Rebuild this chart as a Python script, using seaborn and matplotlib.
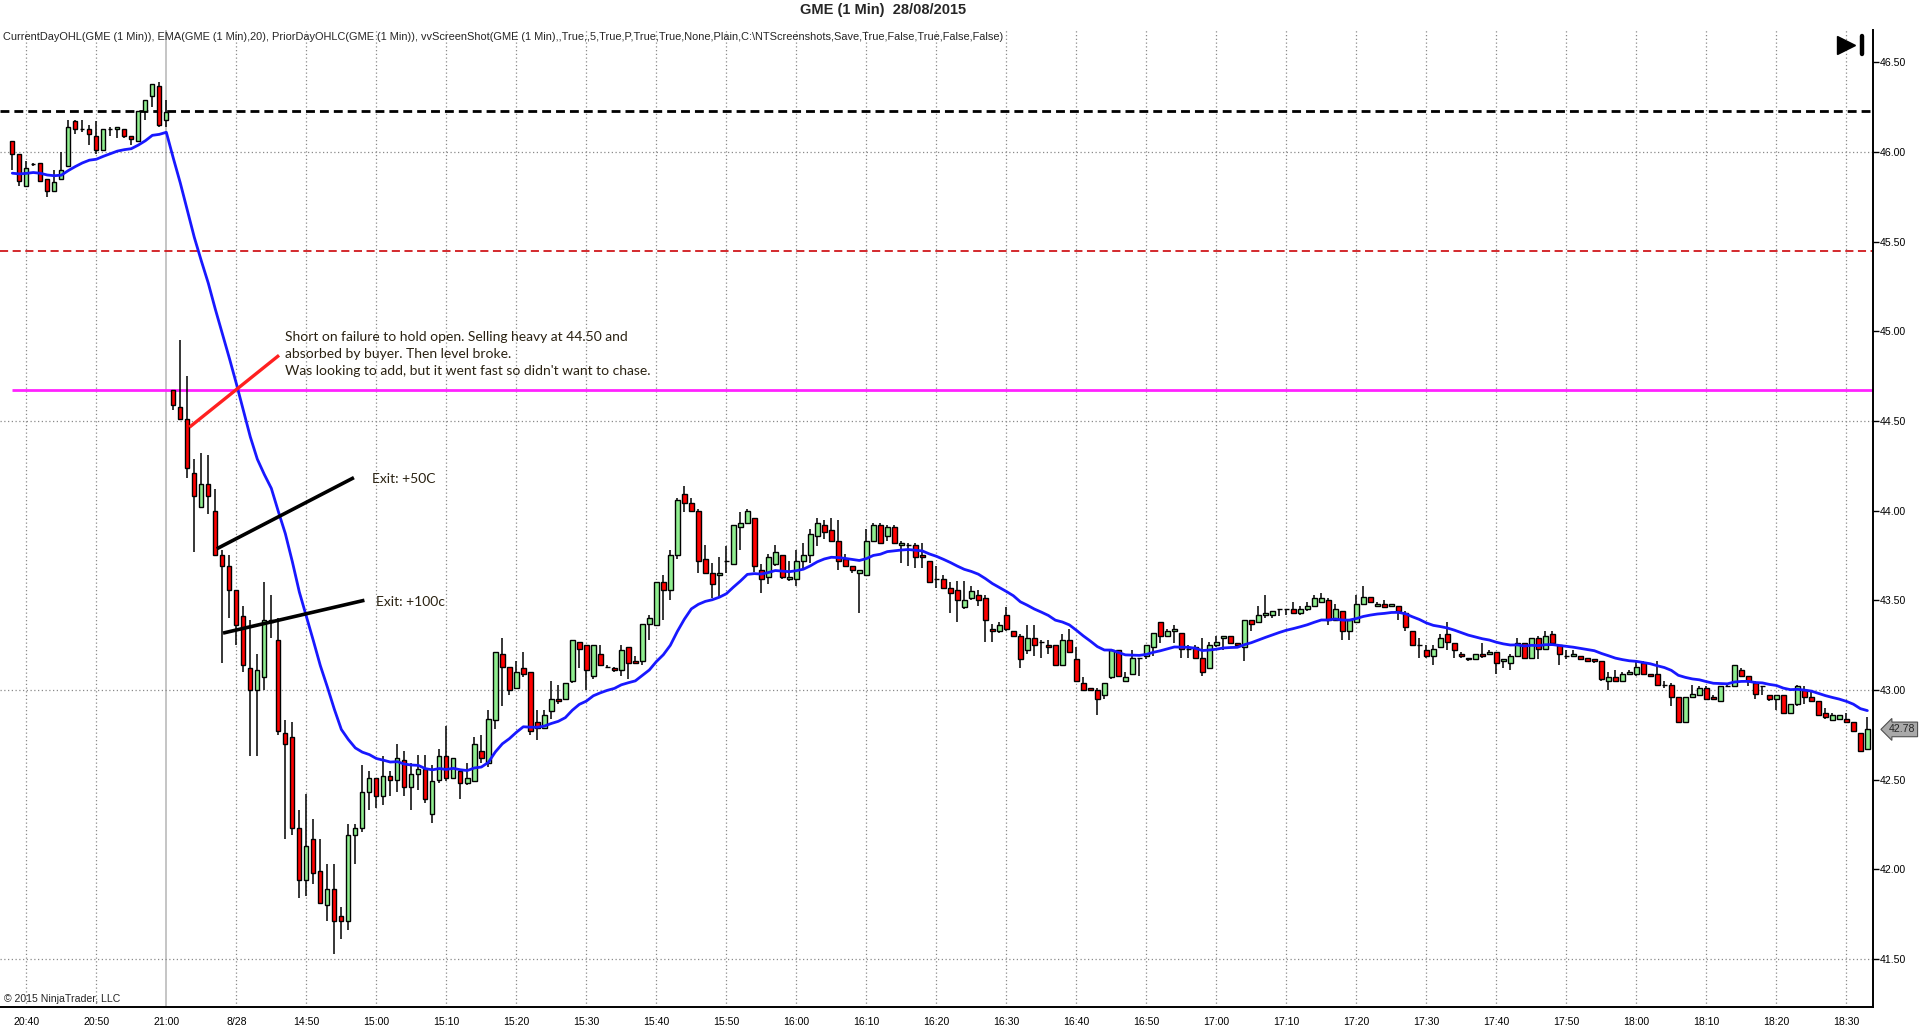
import numpy as np
import pandas as pd
import matplotlib
matplotlib.use("Agg")
import matplotlib.pyplot as plt
from matplotlib.lines import Line2D
import matplotlib.transforms as mtransforms
import seaborn as sns

# GME 1 minute bars, 20:38 (27/08) .. 21:00, then 14:31 (28/08) .. 18:33
OPEN = [46.06, 45.99, 45.81, 45.93, 45.94, 45.85, 45.78, 45.85, 45.92, 46.17,
        46.13, 46.13, 46.09, 46.01, 46.13, 46.13, 46.13, 46.09, 46.06, 46.23,
        46.31, 46.37, 46.18, 44.67, 44.58, 44.51, 44.21, 44.02, 44.15, 44.00,
        43.75, 43.69, 43.56, 43.41, 43.12, 43.00, 43.07, 43.38, 43.28, 42.76,
        42.74, 42.23, 41.94, 42.17, 41.99, 41.80, 41.89, 41.74, 41.71, 42.19,
        42.23, 42.43, 42.51, 42.41, 42.52, 42.50, 42.61, 42.46, 42.53, 42.56,
        42.31, 42.50, 42.63, 42.51, 42.55, 42.48, 42.49, 42.66, 42.59, 42.83,
        43.20, 43.13, 43.01, 43.12, 43.10, 42.82, 42.79, 42.88, 42.95, 42.95,
        43.05, 43.27, 43.25, 43.08, 43.20, 43.13, 43.12, 43.11, 43.24, 43.16,
        43.16, 43.37, 43.36, 43.60, 43.56, 43.75, 44.09, 44.04, 44.00, 43.73,
        43.65, 43.64, 43.72, 43.70, 43.91, 43.93, 43.96, 43.67, 43.63, 43.70,
        43.75, 43.62, 43.62, 43.72, 43.75, 43.86, 43.92, 43.89, 43.83, 43.73,
        43.69, 43.65, 43.64, 43.83, 43.92, 43.86, 43.91, 43.81, 43.81, 43.81,
        43.75, 43.72, 43.62, 43.62, 43.57, 43.56, 43.46, 43.51, 43.53, 43.51,
        43.34, 43.33, 43.42, 43.33, 43.30, 43.22, 43.29, 43.27, 43.25, 43.25,
        43.14, 43.28, 43.17, 43.04, 43.01, 43.00, 42.97, 43.07, 43.22, 43.05,
        43.09, 43.18, 43.19, 43.24, 43.38, 43.30, 43.33, 43.32, 43.23, 43.24,
        43.18, 43.12, 43.25, 43.29, 43.30, 43.26, 43.24, 43.39, 43.38, 43.42,
        43.42, 43.45, 43.45, 43.45, 43.43, 43.45, 43.47, 43.49, 43.50, 43.39,
        43.44, 43.33, 43.38, 43.48, 43.52, 43.47, 43.48, 43.47, 43.47, 43.43,
        43.33, 43.25, 43.22, 43.19, 43.24, 43.31, 43.26, 43.20, 43.18, 43.17,
        43.20, 43.20, 43.21, 43.16, 43.15, 43.19, 43.26, 43.18, 43.29, 43.23,
        43.31, 43.25, 43.19, 43.19, 43.19, 43.18, 43.17, 43.16, 43.05, 43.07,
        43.05, 43.09, 43.09, 43.15, 43.09, 43.09, 43.03, 43.03, 42.96, 42.82,
        42.96, 42.97, 43.01, 42.96, 42.94, 43.02, 43.02, 43.11, 43.08, 43.04,
        43.02, 42.97, 42.95, 42.97, 42.87, 42.92, 43.00, 42.96, 42.94, 42.87,
        42.83, 42.84, 42.84, 42.82, 42.76, 42.67]
HIGH = [46.06, 45.99, 45.95, 45.94, 45.94, 45.85, 45.90, 46.00, 46.18, 46.18,
        46.18, 46.15, 46.17, 46.13, 46.14, 46.14, 46.13, 46.09, 46.23, 46.29,
        46.38, 46.39, 46.29, 44.67, 44.95, 44.75, 44.29, 44.32, 44.31, 44.12,
        43.78, 43.75, 43.56, 43.47, 43.39, 43.20, 43.60, 43.53, 43.40, 42.83,
        42.82, 42.33, 42.42, 42.28, 42.17, 42.03, 42.03, 41.79, 42.25, 42.25,
        42.58, 42.55, 42.51, 42.63, 42.55, 42.70, 42.66, 42.59, 42.64, 42.64,
        42.58, 42.67, 42.80, 42.62, 42.56, 42.59, 42.74, 42.75, 42.89, 43.21,
        43.29, 43.13, 43.16, 43.21, 43.10, 42.89, 42.89, 43.05, 43.03, 43.04,
        43.28, 43.27, 43.25, 43.25, 43.25, 43.14, 43.13, 43.25, 43.24, 43.19,
        43.37, 43.42, 43.60, 43.64, 43.78, 44.07, 44.14, 44.07, 44.01, 43.81,
        43.71, 43.74, 43.80, 43.92, 43.99, 44.01, 43.96, 43.70, 43.76, 43.81,
        43.75, 43.72, 43.78, 43.82, 43.90, 43.96, 43.95, 43.96, 43.95, 43.76,
        43.69, 43.67, 43.90, 43.93, 43.93, 43.92, 43.92, 43.83, 43.82, 43.82,
        43.82, 43.72, 43.69, 43.64, 43.60, 43.61, 43.61, 43.58, 43.56, 43.53,
        43.37, 43.38, 43.46, 43.33, 43.31, 43.36, 43.36, 43.28, 43.28, 43.25,
        43.31, 43.34, 43.24, 43.07, 43.01, 43.01, 43.04, 43.22, 43.22, 43.10,
        43.22, 43.18, 43.25, 43.32, 43.38, 43.34, 43.36, 43.32, 43.25, 43.25,
        43.29, 43.27, 43.30, 43.30, 43.30, 43.26, 43.39, 43.39, 43.47, 43.53,
        43.44, 43.45, 43.45, 43.49, 43.47, 43.49, 43.53, 43.54, 43.51, 43.48,
        43.44, 43.39, 43.53, 43.58, 43.52, 43.49, 43.50, 43.48, 43.47, 43.44,
        43.33, 43.29, 43.25, 43.25, 43.31, 43.38, 43.26, 43.21, 43.18, 43.20,
        43.26, 43.22, 43.21, 43.17, 43.20, 43.29, 43.26, 43.29, 43.30, 43.33,
        43.33, 43.25, 43.22, 43.22, 43.19, 43.18, 43.17, 43.16, 43.10, 43.11,
        43.10, 43.11, 43.16, 43.16, 43.09, 43.16, 43.05, 43.04, 42.96, 42.96,
        43.03, 43.02, 43.02, 42.97, 43.02, 43.04, 43.14, 43.12, 43.08, 43.05,
        43.02, 42.97, 42.97, 42.97, 42.92, 43.03, 43.02, 42.99, 42.94, 42.90,
        42.87, 42.86, 42.87, 42.82, 42.76, 42.85]
LOW = [45.90, 45.81, 45.81, 45.92, 45.84, 45.75, 45.78, 45.85, 45.92, 46.10,
       46.11, 46.04, 45.99, 46.01, 46.09, 46.08, 46.08, 46.04, 46.06, 46.18,
       46.25, 46.14, 46.14, 44.56, 44.51, 44.18, 43.77, 44.02, 43.98, 43.75,
       43.15, 43.40, 43.25, 43.10, 42.63, 42.63, 43.00, 43.29, 42.75, 42.17,
       42.19, 41.84, 41.85, 41.92, 41.81, 41.71, 41.53, 41.61, 41.66, 42.03,
       42.21, 42.33, 42.34, 42.36, 42.41, 42.43, 42.41, 42.33, 42.44, 42.37,
       42.26, 42.48, 42.49, 42.51, 42.39, 42.47, 42.49, 42.59, 42.57, 42.78,
       42.91, 42.97, 43.01, 43.07, 42.75, 42.72, 42.79, 42.84, 42.92, 42.95,
       43.04, 43.12, 43.00, 43.06, 43.14, 43.12, 43.10, 43.08, 43.06, 43.15,
       43.14, 43.28, 43.36, 43.39, 43.50, 43.73, 43.99, 44.00, 43.65, 43.65,
       43.51, 43.51, 43.65, 43.70, 43.78, 43.93, 43.66, 43.54, 43.59, 43.69,
       43.62, 43.61, 43.58, 43.68, 43.71, 43.80, 43.84, 43.83, 43.67, 43.69,
       43.65, 43.43, 43.64, 43.83, 43.82, 43.83, 43.82, 43.71, 43.69, 43.68,
       43.68, 43.60, 43.57, 43.57, 43.43, 43.38, 43.45, 43.50, 43.47, 43.27,
       43.27, 43.32, 43.33, 43.30, 43.12, 43.20, 43.19, 43.18, 43.20, 43.14,
       43.14, 43.21, 43.05, 43.00, 43.00, 42.86, 42.95, 43.06, 43.08, 43.05,
       43.09, 43.08, 43.17, 43.19, 43.26, 43.30, 43.26, 43.18, 43.18, 43.18,
       43.08, 43.12, 43.24, 43.22, 43.26, 43.25, 43.16, 43.33, 43.38, 43.40,
       43.40, 43.41, 43.42, 43.43, 43.42, 43.44, 43.47, 43.49, 43.36, 43.39,
       43.28, 43.28, 43.38, 43.48, 43.49, 43.47, 43.46, 43.47, 43.39, 43.33,
       43.25, 43.18, 43.18, 43.14, 43.24, 43.22, 43.18, 43.18, 43.16, 43.17,
       43.18, 43.20, 43.09, 43.12, 43.11, 43.19, 43.18, 43.18, 43.17, 43.22,
       43.26, 43.14, 43.17, 43.19, 43.17, 43.16, 43.15, 43.05, 43.00, 43.05,
       43.05, 43.09, 43.08, 43.09, 43.08, 43.03, 43.01, 42.91, 42.82, 42.82,
       42.96, 42.97, 42.95, 42.95, 42.94, 43.02, 43.02, 43.07, 43.02, 42.95,
       42.97, 42.94, 42.89, 42.87, 42.87, 42.91, 42.92, 42.94, 42.86, 42.84,
       42.83, 42.83, 42.82, 42.77, 42.66, 42.67]
CLOSE = [45.99, 45.84, 45.91, 45.93, 45.84, 45.78, 45.83, 45.90, 46.14, 46.13,
         46.13, 46.10, 46.01, 46.13, 46.13, 46.14, 46.09, 46.07, 46.23, 46.29,
         46.38, 46.15, 46.22, 44.59, 44.51, 44.24, 44.08, 44.15, 44.08, 43.75,
         43.69, 43.56, 43.36, 43.14, 43.00, 43.11, 43.39, 43.39, 42.77, 42.70,
         42.23, 41.94, 42.13, 41.98, 41.81, 41.89, 41.71, 41.71, 42.19, 42.23,
         42.43, 42.51, 42.41, 42.52, 42.50, 42.62, 42.46, 42.53, 42.56, 42.39,
         42.49, 42.63, 42.51, 42.62, 42.48, 42.51, 42.70, 42.62, 42.84, 43.21,
         43.13, 43.00, 43.10, 43.09, 42.77, 42.79, 42.86, 42.95, 42.94, 43.04,
         43.28, 43.23, 43.11, 43.25, 43.14, 43.13, 43.11, 43.22, 43.15, 43.15,
         43.37, 43.40, 43.60, 43.56, 43.75, 44.06, 44.04, 44.00, 43.72, 43.65,
         43.59, 43.65, 43.72, 43.92, 43.93, 44.00, 43.69, 43.62, 43.74, 43.77,
         43.63, 43.63, 43.72, 43.75, 43.87, 43.93, 43.88, 43.83, 43.72, 43.69,
         43.67, 43.67, 43.83, 43.92, 43.82, 43.91, 43.82, 43.82, 43.81, 43.74,
         43.74, 43.60, 43.62, 43.57, 43.54, 43.50, 43.50, 43.55, 43.50, 43.39,
         43.33, 43.36, 43.34, 43.30, 43.17, 43.29, 43.25, 43.27, 43.24, 43.14,
         43.28, 43.21, 43.05, 43.00, 43.00, 42.95, 43.04, 43.22, 43.08, 43.07,
         43.18, 43.18, 43.25, 43.32, 43.30, 43.33, 43.34, 43.23, 43.23, 43.18,
         43.10, 43.25, 43.27, 43.30, 43.26, 43.25, 43.39, 43.37, 43.42, 43.43,
         43.44, 43.45, 43.45, 43.43, 43.45, 43.47, 43.51, 43.51, 43.39, 43.45,
         43.33, 43.39, 43.48, 43.52, 43.49, 43.48, 43.46, 43.48, 43.44, 43.35,
         43.25, 43.25, 43.19, 43.23, 43.29, 43.27, 43.22, 43.19, 43.17, 43.20,
         43.19, 43.21, 43.15, 43.17, 43.19, 43.26, 43.18, 43.29, 43.23, 43.30,
         43.26, 43.20, 43.19, 43.20, 43.17, 43.16, 43.16, 43.06, 43.07, 43.05,
         43.09, 43.10, 43.13, 43.09, 43.08, 43.03, 43.03, 42.96, 42.82, 42.96,
         42.98, 43.01, 42.95, 42.95, 43.02, 43.02, 43.14, 43.08, 43.05, 42.98,
         43.02, 42.95, 42.97, 42.87, 42.92, 43.02, 42.96, 42.94, 42.86, 42.85,
         42.86, 42.86, 42.82, 42.77, 42.66, 42.78]

X_TICK_BARS = list(range(2, 266, 10))
X_TICK_LABELS = ["20:40", "20:50", "21:00", "8/28", "14:50", "15:00", "15:10",
                 "15:20", "15:30", "15:40", "15:50", "16:00", "16:10", "16:20",
                 "16:30", "16:40", "16:50", "17:00", "17:10", "17:20", "17:30",
                 "17:40", "17:50", "18:00", "18:10", "18:20", "18:30"]
SESSION_BREAK_BAR = 22
Y_TICKS = [41.5, 42.0, 42.5, 43.0, 43.5, 44.0, 44.5, 45.0, 45.5, 46.0, 46.5]
Y_GRID = [41.5, 43.0, 44.5, 46.0]

EMA_PERIOD = 20
EMA_SEED = 45.87
PRIOR_CLOSE = 46.23
PRIOR_LOW = 45.45
CURRENT_OPEN = 44.67
LAST_PRICE = 42.78

# hand-drawn trade markers: (bar0, price0, bar1, price1)
ENTRY_LINE = (25.3, 44.465, 38.1, 44.866)
EXIT_LINES = [(29.2, 43.787, 48.8, 44.184), (30.1, 43.317, 50.3, 43.50)]
NOTE = ("Short on failure to hold open. Selling heavy at 44.50 and\n"
        "absorbed by buyer. Then level broke.\n"
        "Was looking to add, but it went fast so didn't want to chase.")
EXIT_NOTES = [("Exit: +50C", 51.4, 44.175), ("Exit: +100c", 52.0, 43.49)]

df = pd.DataFrame({"open": OPEN, "high": HIGH, "low": LOW, "close": CLOSE})
df["bar"] = np.arange(len(df))
seeded = pd.concat([pd.Series([EMA_SEED]), df["close"]], ignore_index=True)
df["ema"] = seeded.ewm(span=EMA_PERIOD, adjust=False).mean().iloc[1:].values

sns.set_style("white")
plt.rcParams["font.family"] = ["Liberation Sans", "DejaVu Sans"]

fig = plt.figure(figsize=(19.2, 10.34), dpi=100)
ax = fig.add_axes([0.0, 0.0261, 0.9755, 0.9449])

# grid
for xb in X_TICK_BARS:
    if xb == SESSION_BREAK_BAR:
        ax.axvline(xb, color="#c0c0c0", lw=1.3, zorder=0)
    else:
        ax.axvline(xb, color="#8a8a8a", lw=0.9, ls=(0, (1, 2)), zorder=0)
for yg in Y_GRID:
    ax.axhline(yg, color="#8a8a8a", lw=0.9, ls=(0, (1, 2)), zorder=0)

# price levels
ax.axhline(PRIOR_CLOSE, color="black", lw=2.0, ls=(0, (3.2, 1.8)), zorder=1)
ax.axhline(PRIOR_LOW, color="#d0181c", lw=1.3, ls=(0, (4.5, 2.5)), zorder=1)
ax.hlines(CURRENT_OPEN, 0, len(df) + 5, color="#ff22ff", lw=2.0, zorder=1)

# candles
up = df["close"] >= df["open"]
ax.vlines(df["bar"], df["low"], df["high"], color="black", lw=1.1, zorder=3)
ax.bar(df["bar"], (df["close"] - df["open"]).abs(),
       bottom=np.minimum(df["open"], df["close"]), width=0.62,
       color=np.where(up, "#90ee90", "#ff0000"), edgecolor="black",
       linewidth=1.0, zorder=4)

# EMA
sns.lineplot(data=df, x="bar", y="ema", ax=ax, color="#1818ff", lw=2.0,
             zorder=5, legend=False)

# trade drawings
ax.plot(ENTRY_LINE[0::2], ENTRY_LINE[1::2], color="#ff2020", lw=2.4,
        solid_capstyle="butt", zorder=6)
for ln in EXIT_LINES:
    ax.plot(ln[0::2], ln[1::2], color="black", lw=2.6,
            solid_capstyle="butt", zorder=6)
note_font = dict(family=["Lato", "DejaVu Sans"], fontsize=10, color="#2a2212")
ax.text(39.0, 45.0, NOTE, va="top", ha="left", linespacing=1.5, **note_font)
for txt, xb, yp in EXIT_NOTES:
    ax.text(xb, yp, txt, va="center", ha="left", **note_font)

# axes formatting
ax.set_xlim(-1.76, 265.8)
ax.set_ylim(41.232, 46.68)
ax.set_xticks(X_TICK_BARS)
ax.set_xticklabels(X_TICK_LABELS)
ax.set_yticks(Y_TICKS)
ax.set_yticklabels([f"{v:.2f}" for v in Y_TICKS])
ax.yaxis.tick_right()
ax.set_xlabel("")
ax.set_ylabel("")
ax.tick_params(axis="y", direction="out", length=4, width=1, pad=1,
               labelsize=7.6, colors="black")
ax.tick_params(axis="x", direction="out", length=0, pad=7, labelsize=7.6,
               colors="black")
for side in ["left", "top"]:
    ax.spines[side].set_visible(False)
for side in ["right", "bottom"]:
    ax.spines[side].set_color("black")
    ax.spines[side].set_linewidth(1.4)

# last price tag on the price axis
trans = mtransforms.blended_transform_factory(ax.transAxes, ax.transData)
ax.text(1.0085, LAST_PRICE, f"{LAST_PRICE:.2f}", transform=trans, ha="left",
        va="center", fontsize=7.6, clip_on=False,
        bbox=dict(boxstyle="larrow,pad=0.22", fc="#a9a9a9", ec="#505050", lw=0.8))

ax.text(0.002, 0.003, "\u00a9 2015 NinjaTrader, LLC", transform=ax.transAxes,
        ha="left", va="bottom", fontsize=7.6)
fig.text(0.0015, 0.9645,
         "CurrentDayOHL(GME (1 Min)), EMA(GME (1 Min),20), PriorDayOHLC(GME (1 Min)), "
         "vvScreenShot(GME (1 Min),,True,,5,True,P,True,True,None,Plain,C:\\NTScreenshots,"
         "Save,True,False,True,False,False)",
         ha="left", va="center", fontsize=7.95)
fig.text(0.46, 0.9905, "GME (1 Min)  28/08/2015", ha="center", va="center",
         fontsize=10.5, fontweight="bold")

# "go to last bar" icon
fig.add_artist(Line2D([0.9614], [0.9565], marker=">", markersize=13,
                      color="black", transform=fig.transFigure))
fig.add_artist(Line2D([0.9696, 0.9696], [0.9478, 0.9652], lw=3.2,
                      color="black", transform=fig.transFigure))

fig.savefig("out.png", dpi=100)
